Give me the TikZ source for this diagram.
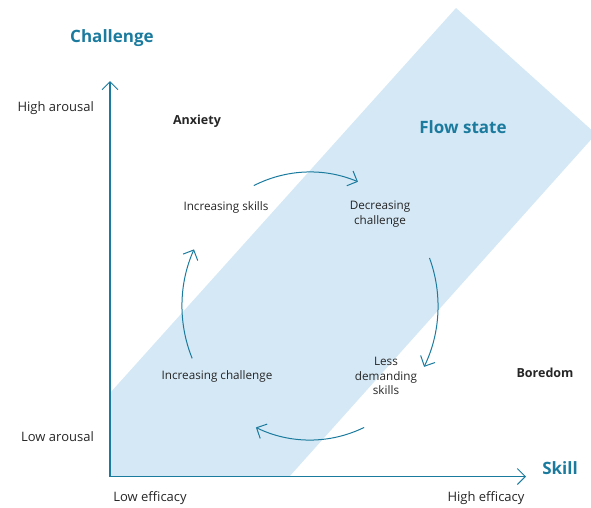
\documentclass[tikz,border=0pt]{standalone}
\usepackage{fontspec}
\setmainfont{Open Sans}
\usetikzlibrary{arrows.meta}
\definecolor{teal}{HTML}{1B7B9E}
\definecolor{band}{HTML}{D5E8F5}
\definecolor{ink}{HTML}{262626}
\tikzset{
  lbl/.style={text=ink, font=\fontsize{11.7}{14.5}\selectfont, align=center, inner sep=0pt},
  axlbl/.style={text=ink, font=\fontsize{13}{15}\selectfont, inner sep=0pt},
  zone/.style={text=ink, font=\fontsize{12.5}{15}\selectfont\bfseries, inner sep=0pt},
  ttl/.style={text=teal, font=\fontsize{17}{21}\selectfont\bfseries, inner sep=0pt},
  tip/.style={-{Straight Barb[length=8pt,width=16pt,line width=1pt]}},
  ax/.style={draw=teal, line width=1.1pt, tip},
  cyc/.style={draw=teal, line width=1pt, tip},
}
\begin{document}
\begin{tikzpicture}[x=1pt,y=-1pt]
\useasboundingbox (0,0) rectangle (591,507);
\begin{scope}
\clip (110,0) rectangle (591,476.5);
\fill[band] (110,393) -- (456,8) -- (596,134) -- (289,477) -- (110,477) -- cycle;
\end{scope}
% axes
\coordinate (origin) at (110,476.5);
\coordinate (ytip) at (110,81);
\coordinate (xtip) at (526,476.5);
\draw[ax] (origin) -- (ytip);
\draw[ax] (origin) -- (xtip);
% titles
\node[ttl] (challenge) at (112,38) {Challenge};
\node[ttl] (skill) at (560,468) {Skill};
\node[ttl] (flow) at (463,127) {Flow state};
% axis labels
\node[axlbl, anchor=east] (high) at (94,108) {High arousal};
\node[axlbl, anchor=east] (low) at (94,437) {Low arousal};
\node[axlbl] (loweff) at (150,498) {Low efficacy};
\node[axlbl] (higheff) at (486,498) {High efficacy};
% zones
\node[zone] (anx) at (197,121) {Anxiety};
\node[zone] (bor) at (545,373) {Boredom};
% cycle labels
\node[lbl] (incskill) at (226,207) {Increasing skills};
\node[lbl] (decchal) at (380,214) {Decreasing\\challenge};
\node[lbl] (less) at (386,376) {Less\\demanding\\skills};
\node[lbl] (incchal) at (217,376) {Increasing challenge};
% cycle arcs (ellipse centre c)
\coordinate (c) at (310,306);
\draw[cyc] ([shift={(116:128 and -134)}]c) arc[start angle=116, end angle=68, x radius=128, y radius=-134];
\draw[cyc] ([shift={(21:128 and -134)}]c) arc[start angle=21, end angle=-27, x radius=128, y radius=-134];
\draw[cyc] ([shift={(-65:128 and -134)}]c) arc[start angle=-65, end angle=-115, x radius=128, y radius=-134];
\draw[cyc] ([shift={(-157:128 and -134)}]c) arc[start angle=-157, end angle=-205, x radius=128, y radius=-134];
\end{tikzpicture}
\end{document}
